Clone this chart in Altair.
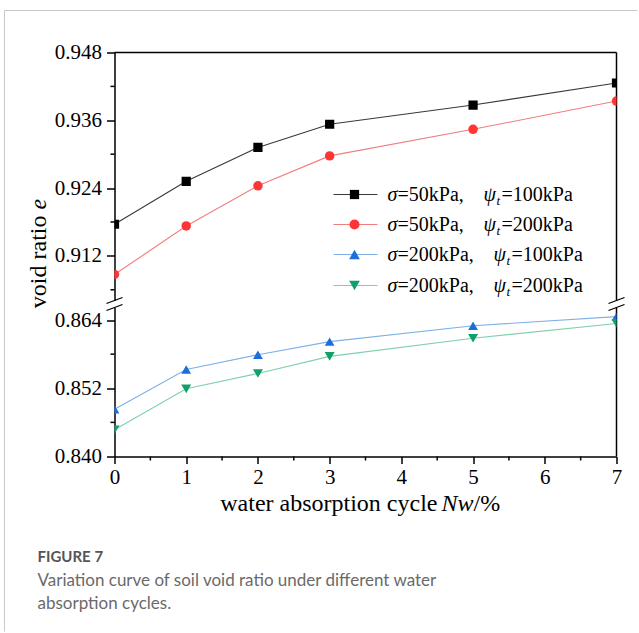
import altair as alt
import pandas as pd

# ---------------- data ----------------
nw = [0, 1, 2, 3, 5, 7]
e_s50_p100 = [0.9176, 0.9252, 0.9312, 0.9353, 0.9387, 0.9426]
e_s50_p200 = [0.9087, 0.9173, 0.9244, 0.9297, 0.9344, 0.9394]
e_s200_p100 = [0.8483, 0.8553, 0.8579, 0.8602, 0.8630, 0.8646]
e_s200_p200 = [0.8447, 0.8519, 0.8546, 0.8576, 0.8608, 0.8634]

series_keys = ["s50_p100", "s50_p200", "s200_p100", "s200_p200"]
sigma_labels = ["=50kPa,", "=50kPa,", "=200kPa,", "=200kPa,"]
psi_labels = ["=100kPa", "=200kPa", "=100kPa", "=200kPa"]

x_major = [0, 1, 2, 3, 4, 5, 6, 7]
x_minor = [0.5, 1.5, 2.5, 3.5, 4.5, 5.5, 6.5]
upper_major = [0.912, 0.924, 0.936, 0.948]
upper_minor = [0.906, 0.918, 0.930, 0.942]
lower_major = [0.840, 0.852, 0.864]
lower_minor = [0.846, 0.858]
upper_domain = [0.9041, 0.948]
lower_domain = [0.840, 0.8662]

x_title = ["water absorption cycle", "Nw", "/%"]
y_title = ["void ratio", "e"]
fig_label = "FIGURE 7"
caption_lines = [
    "Variation curve of soil void ratio under different water",
    "absorption cycles.",
]

# ---------------- styling ----------------
SERIF = "Liberation Serif"
SANS = "Lato"
marker_colors = ["#000000", "#ff3535", "#1a6fdc", "#12a06a"]
line_colors = ["#3a3a3a", "#f27d7d", "#7fb1e8", "#7fd0ad"]
shapes = ["square", "circle", "triangle-up", "triangle-down"]
sizes = [85, 100, 115, 115]

W = 502        # plot width
H_UP = 248     # upper (broken) panel height
H_LO = 149     # lower panel height
GAP = 7        # axis break gap

x_scale = alt.Scale(domain=[0, 7], nice=False, zero=False)


def txt(label, x, y, size, style="normal", align="left", baseline="alphabetic",
        angle=0, font=SERIF, color="#000000", weight="normal"):
    kw = dict(align=align, baseline=baseline, font=font, fontSize=size,
              fontStyle=style, color=color, fontWeight=weight)
    if angle:
        kw["angle"] = angle
    return alt.Chart(pd.DataFrame({"label": [label]})).mark_text(**kw).encode(
        text="label:N", x=alt.value(x), y=alt.value(y))


def seg(x1, y1, x2, y2, color="#000000", width=1.5):
    return alt.Chart(pd.DataFrame({"k": [0]})).mark_rule(
        color=color, strokeWidth=width).encode(
        x=alt.value(x1), y=alt.value(y1), x2=alt.value(x2), y2=alt.value(y2))


def long_frame(keys, arrays):
    rows = []
    for k, arr in zip(keys, arrays):
        for n, e in zip(nw, arr):
            rows.append({"nw": n, "e": e, "series": k})
    return pd.DataFrame(rows)


def series_marks(df, X, Y):
    lines = alt.Chart(df).mark_line(strokeWidth=1.1, clip=True).encode(
        x=X, y=Y,
        stroke=alt.Stroke("series:N", scale=alt.Scale(domain=series_keys, range=line_colors),
                          legend=None))
    points = alt.Chart(df).mark_point(filled=True, opacity=1, strokeWidth=0, clip=True).encode(
        x=X, y=Y,
        fill=alt.Fill("series:N", scale=alt.Scale(domain=series_keys, range=marker_colors),
                      legend=None),
        shape=alt.Shape("series:N", scale=alt.Scale(domain=series_keys, range=shapes),
                        legend=None),
        size=alt.Size("series:O", scale=alt.Scale(domain=series_keys, range=sizes),
                      legend=None))
    return [lines, points]


def y_minor_ticks(values, Y):
    return alt.Chart(pd.DataFrame({"e": values})).mark_rule(
        color="#000000", strokeWidth=1.5).encode(y=Y, x=alt.value(0), x2=alt.value(-4))


# ---------------- upper panel ----------------
Xu = alt.X("nw:Q", scale=x_scale, axis=None)
Yu = alt.Y("e:Q", scale=alt.Scale(domain=upper_domain, nice=False, zero=False),
           axis=alt.Axis(values=upper_major, format=".3f", title=None,
                         tickSize=8, labelPadding=5))
upper_df = long_frame(series_keys[:2], [e_s50_p100, e_s50_p200])

upper_layers = []
# card frame around the figure
upper_layers.append(seg(-110, -42, 523, -42, color="#c8c8c8", width=1))
upper_layers.append(seg(-110, -42, -110, 579, color="#c8c8c8", width=1))
# plot frame: top and right edges
upper_layers.append(seg(0, 0, W, 0))
upper_layers.append(seg(W, 0, W, H_UP))
upper_layers.append(y_minor_ticks(upper_minor, Yu))
upper_layers += series_marks(upper_df, Xu, Yu)
# axis break marks on both vertical edges
for xc in [0, W]:
    upper_layers.append(seg(xc - 8, H_UP + 3, xc + 8, H_UP - 3, width=1.3))
    upper_layers.append(seg(xc - 8, H_UP + 10, xc + 8, H_UP + 4, width=1.3))

# legend
legend_rows = [142, 172, 202, 233]
psi_x = [369, 369, 379, 379]
for i, key in enumerate(series_keys):
    ry = legend_rows[i]
    upper_layers.append(seg(219, ry, 263, ry, color=line_colors[i], width=1.1))
    upper_layers.append(
        alt.Chart(pd.DataFrame({"k": [key]})).mark_point(
            filled=True, opacity=1, strokeWidth=0, shape=shapes[i],
            size=sizes[i], color=marker_colors[i]).encode(
            x=alt.value(240), y=alt.value(ry)))
    upper_layers.append(txt("σ", 273, ry + 6, 20, style="italic"))
    upper_layers.append(txt(sigma_labels[i], 283, ry + 6, 20))
    upper_layers.append(txt("ψ", psi_x[i], ry + 6, 20, style="italic"))
    upper_layers.append(txt("t", psi_x[i] + 13, ry + 10, 13, style="italic"))
    upper_layers.append(txt(psi_labels[i], psi_x[i] + 18, ry + 6, 20))

# y axis title (rotated, with italic symbol)
upper_layers.append(txt(y_title[0], -69, 163, 24, align="right", angle=270))
upper_layers.append(txt(y_title[1], -69, 157, 24, style="italic", align="left", angle=270))

upper = alt.layer(*upper_layers).properties(width=W, height=H_UP)

# ---------------- lower panel ----------------
Xl = alt.X("nw:Q", scale=x_scale,
           axis=alt.Axis(values=x_major, format="d", title=None, tickSize=7, labelPadding=3))
Yl = alt.Y("e:Q", scale=alt.Scale(domain=lower_domain, nice=False, zero=False),
           axis=alt.Axis(values=lower_major, format=".3f", title=None,
                         tickSize=8, labelPadding=5))
lower_df = long_frame(series_keys[2:], [e_s200_p100, e_s200_p200])

lower_layers = []
lower_layers.append(seg(W, 0, W, H_LO))
lower_layers.append(y_minor_ticks(lower_minor, Yl))
lower_layers.append(
    alt.Chart(pd.DataFrame({"nw": x_minor})).mark_rule(color="#000000", strokeWidth=1.5).encode(
        x=Xl, y=alt.value(H_LO), y2=alt.value(H_LO + 4)))
lower_layers += series_marks(lower_df, Xl, Yl)

# x axis title
lower_layers.append(txt(x_title[0], 323, 203, 24, align="right"))
lower_layers.append(txt(x_title[1], 327, 203, 24, style="italic"))
lower_layers.append(txt(x_title[2], 359, 203, 24))

# figure caption
lower_layers.append(txt(fig_label, -77, 254, 15, font=SANS, color="#555555", weight="bold"))
lower_layers.append(txt(caption_lines[0], -77, 278, 17, font=SANS, color="#6a6a6a"))
lower_layers.append(txt(caption_lines[1], -77, 301, 17, font=SANS, color="#6a6a6a"))

lower = alt.layer(*lower_layers).properties(width=W, height=H_LO)

chart = alt.vconcat(upper, lower, spacing=GAP, bounds="flush").properties(
    padding={"left": 3.5, "top": 9.5, "right": 0, "bottom": 0},
    background="white",
).configure_view(stroke=None).configure_axis(
    domainColor="#000000", domainWidth=1.5, tickColor="#000000", tickWidth=1.5,
    labelFont=SERIF, labelFontSize=21, labelColor="#000000", grid=False,
    labelFlush=False, labelOverlap=False,
)

chart.save("out.html", embed_options={"renderer": "svg", "actions": False})
